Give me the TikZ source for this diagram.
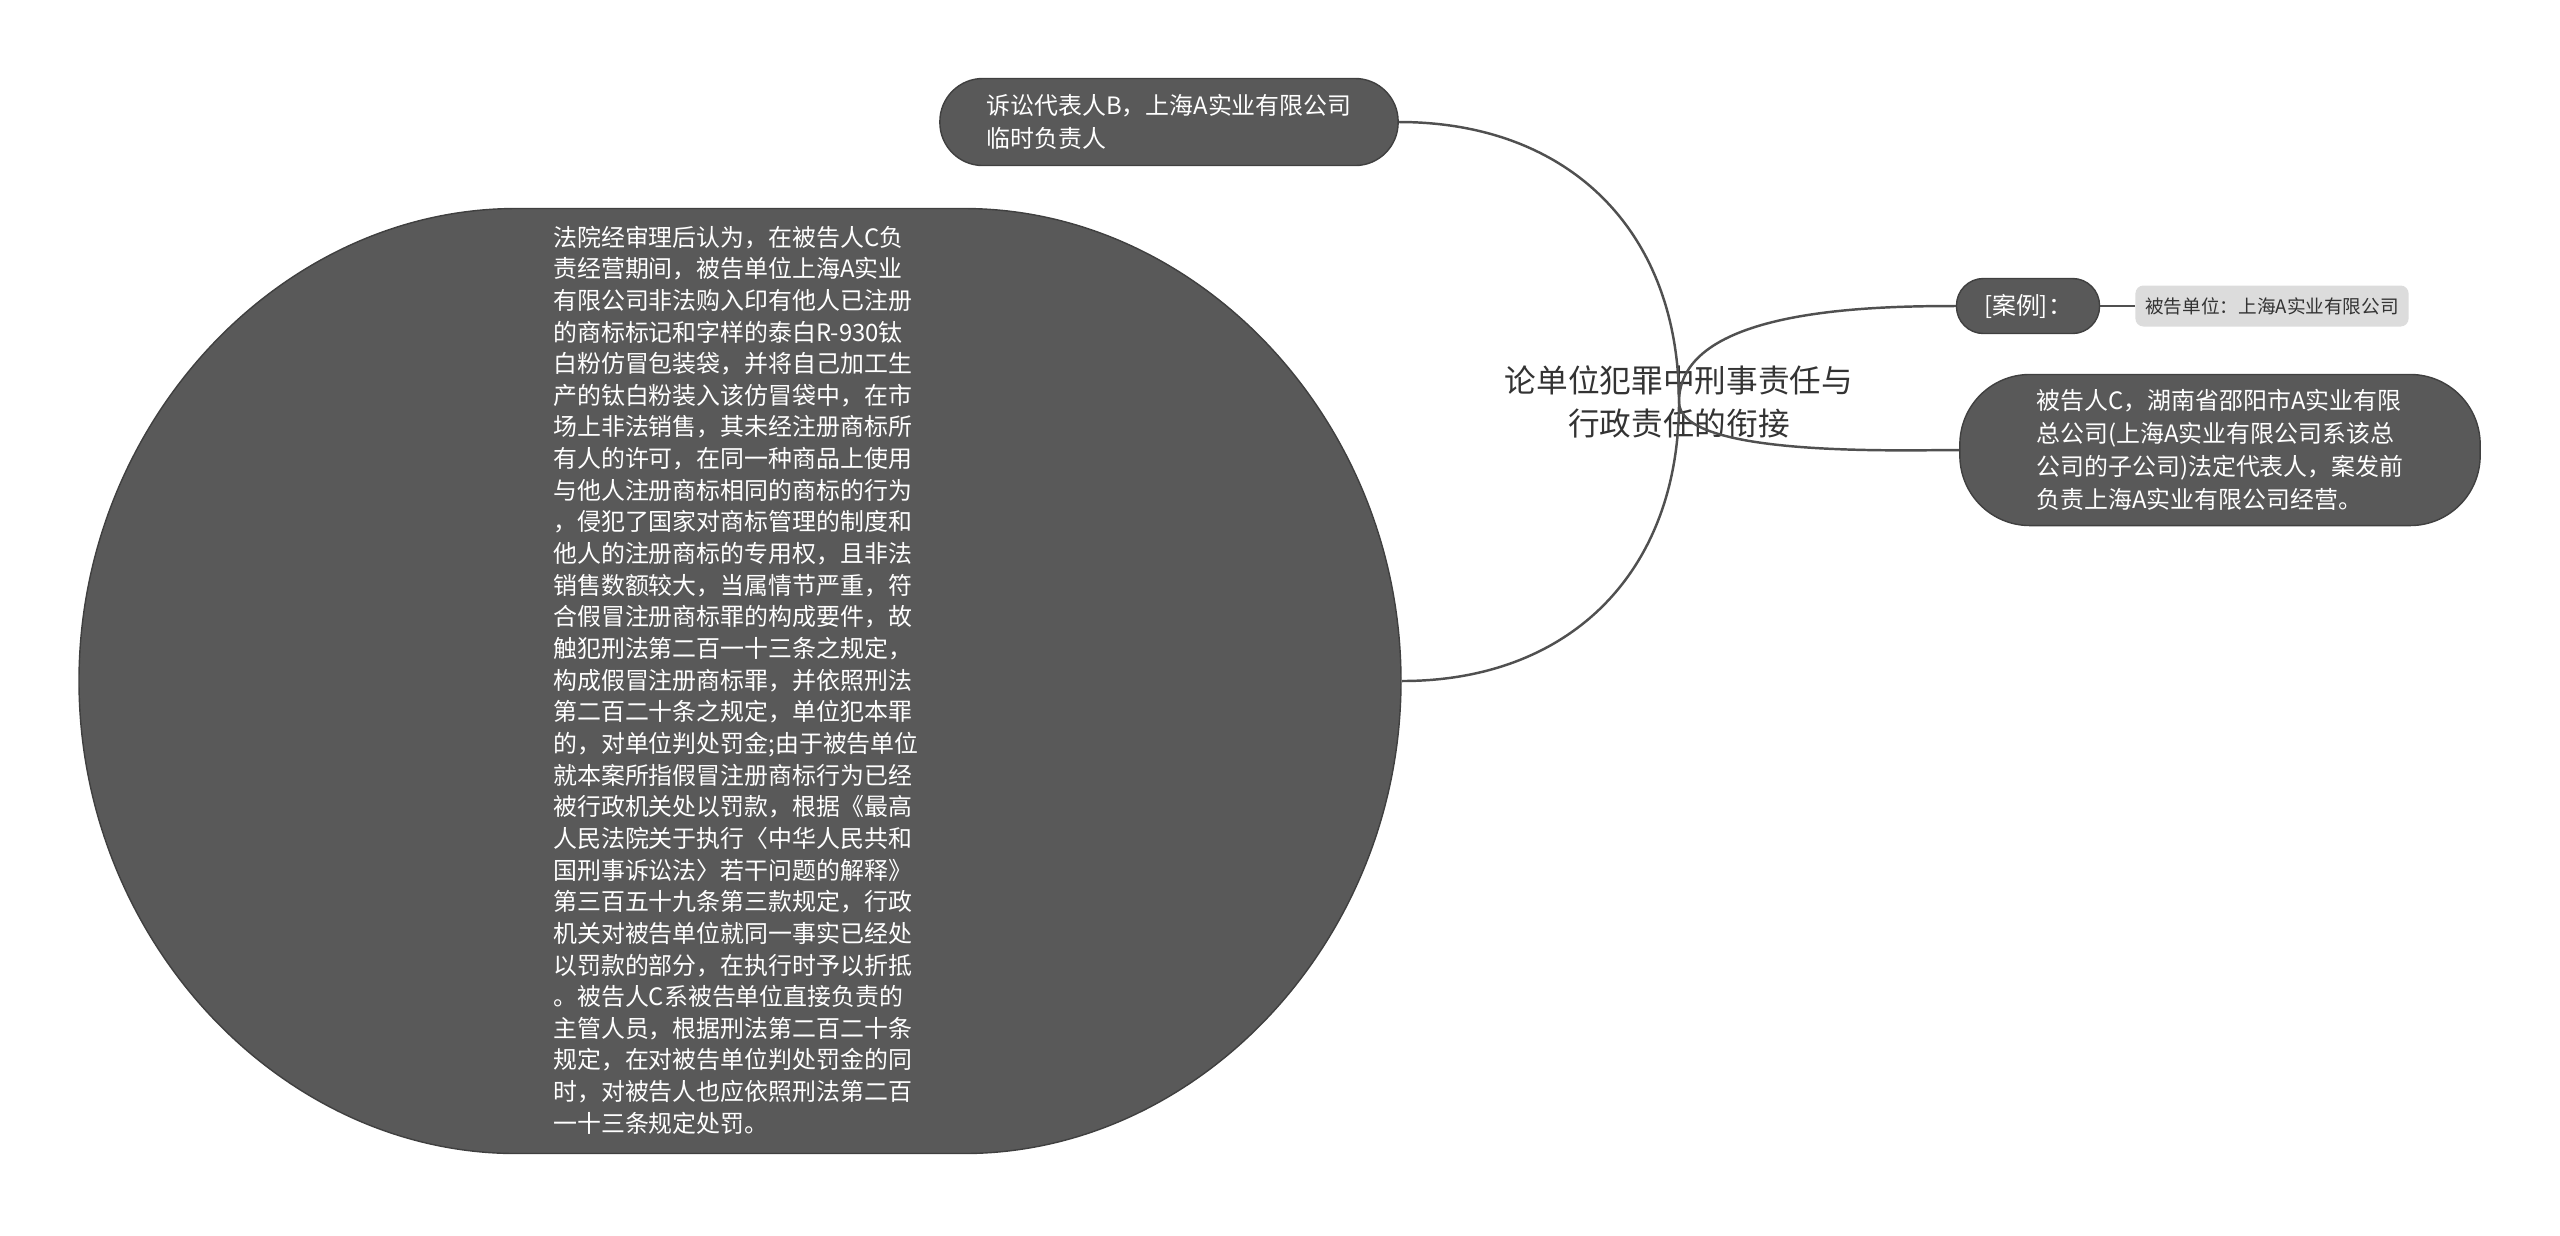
\documentclass[tikz,border=0pt]{standalone}
\usepackage{fontspec}
\setmainfont{Noto Sans CJK SC}

\definecolor{nodegray}{HTML}{595959}
\definecolor{edgegray}{HTML}{404040}
\definecolor{linkgray}{HTML}{505050}
\definecolor{tipgray}{HTML}{DCDCDC}
\definecolor{titlegray}{HTML}{333333}

\newcommand{\bodyfont}{\fontsize{6.8pt}{9.4pt}\selectfont}
\newcommand{\longfont}{\fontsize{6.8pt}{9pt}\selectfont}
\newcommand{\titlefont}{\fontsize{9pt}{12.2pt}\selectfont}
\newcommand{\tipfont}{\fontsize{5.3pt}{7pt}\selectfont}

\tikzset{
	topic/.style={draw=edgegray, line width=0.4pt, fill=nodegray, text=white, font=\bodyfont, align=left, inner sep=0pt},
	tip/.style={fill=tipgray, text=titlegray, font=\tipfont, inner sep=0pt, rounded corners=0.08cm},
	link/.style={draw=linkgray, line width=0.7pt},
}

\begin{document}
\begin{tikzpicture}[x=0.01cm, y=0.01cm]
			\def\W{661};
			\def\H{472.5};
			\def\F{224};
			\def\CX{460};
			\def\CY{258};

			\useasboundingbox (0,0) rectangle (2560,-1235);

			% root
			\node [font=\titlefont, text=titlegray, align=center] (root) at (1679,-402)
				{论单位犯罪中刑事责任与\\行政责任的衔接};

			% left side
			\node [topic, minimum width=4.58cm, minimum height=0.87cm, rounded corners=0.43cm] (rep) at (1169,-122)
				{诉讼代表人B，上海A实业有限公司\\临时负责人};

			\node [minimum width=13.22cm, minimum height=9.45cm, inner sep=0pt] (court) at (740,-681) {};
			\begin{scope}[shift={(court.center)}]
				\draw [draw=edgegray, line width=0.4pt, fill=nodegray]
					(-\F,\H) -- (\F,\H) .. controls (\CX,\H) and (\W,\CY) .. (\W,0)
					.. controls (\W,-\CY) and (\CX,-\H) .. (\F,-\H) -- (-\F,-\H)
					.. controls (-\CX,-\H) and (-\W,-\CY) .. (-\W,0)
					.. controls (-\W,\CY) and (-\CX,\H) .. (-\F,\H) -- cycle;
			\end{scope}
			\node [text=white, font=\longfont, align=left, inner sep=0pt] (courttext) at (736,-680)
				{法院经审理后认为，在被告人C负\\
				责经营期间，被告单位上海A实业\\
				有限公司非法购入印有他人已注册\\
				的商标标记和字样的泰白R-930钛\\
				白粉仿冒包装袋，并将自己加工生\\
				产的钛白粉装入该仿冒袋中，在市\\
				场上非法销售，其未经注册商标所\\
				有人的许可，在同一种商品上使用\\
				与他人注册商标相同的商标的行为\\
				，侵犯了国家对商标管理的制度和\\
				他人的注册商标的专用权，且非法\\
				销售数额较大，当属情节严重，符\\
				合假冒注册商标罪的构成要件，故\\
				触犯刑法第二百一十三条之规定，\\
				构成假冒注册商标罪，并依照刑法\\
				第二百二十条之规定，单位犯本罪\\
				的，对单位判处罚金;由于被告单位\\
				就本案所指假冒注册商标行为已经\\
				被行政机关处以罚款，根据《最高\\
				人民法院关于执行〈中华人民共和\\
				国刑事诉讼法〉若干问题的解释》\\
				第三百五十九条第三款规定，行政\\
				机关对被告单位就同一事实已经处\\
				以罚款的部分，在执行时予以折抵\\
				。被告人C系被告单位直接负责的\\
				主管人员，根据刑法第二百二十条\\
				规定，在对被告单位判处罚金的同\\
				时，对被告人也应依照刑法第二百\\
				一十三条规定处罚。};

			% right side
			\node [topic, minimum width=1.43cm, minimum height=0.55cm, rounded corners=0.27cm] (case) at (2028,-306) {[案例]：};
			\node [tip, minimum width=2.73cm, minimum height=0.41cm] (unit) at (2272,-306) {被告单位：上海A实业有限公司};

			\node [topic, minimum width=5.2cm, minimum height=1.51cm, rounded corners=0.7cm] (defc) at (2220,-450)
				{被告人C，湖南省邵阳市A实业有限\\总公司(上海A实业有限公司系该总\\公司的子公司)法定代表人，案发前\\负责上海A实业有限公司经营。};

			% links
			\begin{scope}[link]
				\draw (root.center) to [out=90, in=0, looseness=1.1] (rep.east);
				\draw (root.center) to [out=-90, in=0, looseness=1.1] (court.east);
				\draw (root.center) to [out=90, in=180, looseness=0.8] (case.west);
				\draw (root.center) to [out=-90, in=180, looseness=0.5] (defc.west);
				\draw (case) -- (unit);
			\end{scope}
		\end{tikzpicture}
\end{document}
